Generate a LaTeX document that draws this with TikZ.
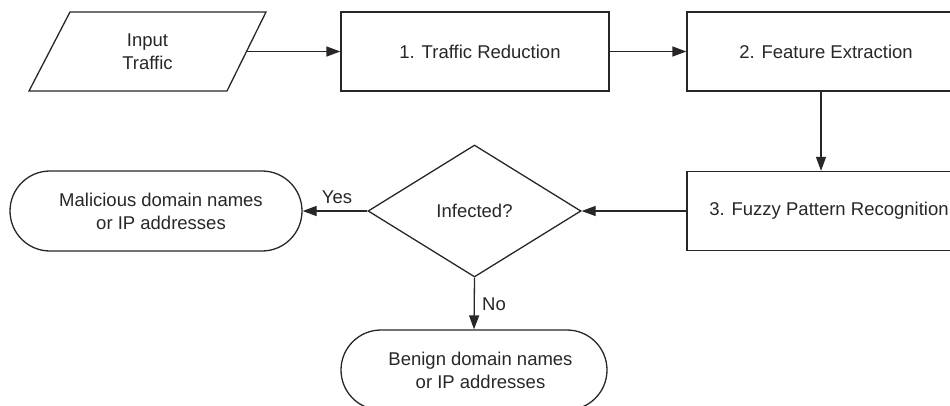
\documentclass[tikz,border=0pt]{standalone}
\usepackage{fontspec}
\setmainfont{Liberation Sans}
\usetikzlibrary{arrows.meta,shapes.geometric,shapes.misc}
\definecolor{ink}{RGB}{40,38,38}
\newcommand{\padl}{\hspace*{10pt}}
\begin{document}
\begin{tikzpicture}[x=1pt,y=-1pt,
  every node/.style={font=\fontsize{18.5}{23}\selectfont, text=ink},
  procbox/.style={draw=ink, line width=1.3pt, rectangle, minimum width=268pt, minimum height=79pt, inner sep=0pt},
  termbox/.style={draw=ink, line width=1.3pt, rounded rectangle, minimum height=80pt, inner sep=0pt, align=center},
  decbox/.style={draw=ink, line width=1.3pt, diamond, minimum width=213pt, minimum height=132pt, inner sep=0pt},
  flow/.style={draw=ink, line width=1.3pt, -{Triangle[length=14pt,width=10pt]}},
  lbl/.style={inner sep=0pt}
]
\useasboundingbox (0,0) rectangle (950,405);
\clip (0,0) rectangle (950,405);

% input parallelogram
\draw[draw=ink, line width=1.3pt] (70,12) -- (266,12) -- (227,91) -- (29,91) -- cycle;
\node[align=center] (input) at (147.5,51.5) {Input\\Traffic};
\coordinate (inR) at (246.5,51.5);

\node[procbox] (red) at (475,51.5) {\padl 1. Traffic Reduction};
\node[procbox] (feat) at (821,51.5) {\padl 2. Feature Extraction};
\node[procbox] (fuzzy) at (821,211) {\hspace*{16pt}3. Fuzzy Pattern Recognition};
\node[decbox] (inf) at (474.5,211) {Infected?};
\node[termbox, minimum width=292pt] (mal) at (156,211) {\padl Malicious domain names\\\padl or IP addresses};
\node[termbox, minimum width=266pt] (ben) at (474,370) {\hspace*{13pt}Benign domain names\\\hspace*{13pt}or IP addresses};

\draw[flow] (inR) -- (red.west);
\draw[flow] (red.east) -- (feat.west);
\draw[flow] (feat.south) -- (fuzzy.north);
\draw[flow] (fuzzy.west) -- (inf.east);
\draw[flow] (inf.west) -- (mal.east);
\draw[flow] (inf.south) -- (ben.north);

\node[lbl] (yes) at (337,197) {Yes};
\node[lbl] (no) at (494,304) {No};
\end{tikzpicture}
\end{document}
